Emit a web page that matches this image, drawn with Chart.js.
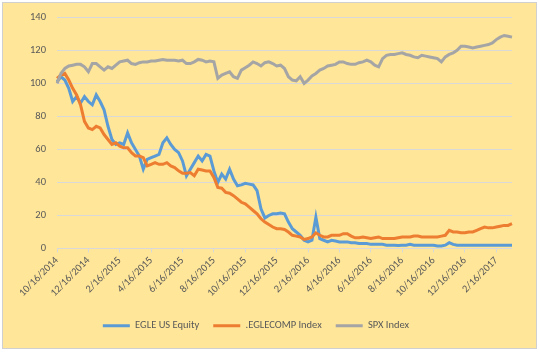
<!DOCTYPE html>
<html>
<head>
<meta charset="utf-8">
<script src="https://cdn.jsdelivr.net/npm/chart.js@4/dist/chart.umd.min.js"></script>
<style>
  html, body { margin: 0; padding: 0; background: #ffffff; }
  #frame { position: absolute; left: 2px; top: 2px; width: 533px; height: 345px; background: #FFE699; border: 1px solid #D0D0D0; }
  #wrap { position: absolute; left: 0; top: 0; width: 539px; height: 355px; }
</style>
</head>
<body>
<div id="frame"></div>
<div id="wrap"><canvas id="c" width="539" height="355"></canvas></div>
<script>
// Tick labels shown on the x axis (every 2 months)
const tickLabels = ["10/16/2014","12/16/2014","2/16/2015","4/16/2015","6/16/2015","8/16/2015","10/16/2015","12/16/2015","2/16/2016","4/16/2016","6/16/2016","8/16/2016","10/16/2016","12/16/2016","2/16/2017"];

// Categories: roughly weekly sample dates (1st, 8th, 16th, 24th of each month)
const categories = [];
(function () {
  const days = [1, 8, 16, 24];
  let y = 2014, m = 10;
  while (true) {
    for (const d of days) {
      if (y === 2014 && m === 10 && d < 16) continue;
      if (y === 2017 && m === 3 && d > 16) continue;
      categories.push(m + "/" + d + "/" + y);
    }
    if (y === 2017 && m === 3) break;
    m++; if (m > 12) { m = 1; y++; }
  }
})();

const egleUS = [
  101,104,102,97,89,92,88,92,89,87,
  93,89,84,74,66,63,64,63,70,64,
  60,56,48,54,55,56,57,64,67,63,
  60,58,53,44,48,52,56,53,57,56,
  47,40,45,42,48,42,38,38.5,39.5,39,
  38.5,35,24,18.5,20,21,21,21.5,21,16,
  12,10,8,5,4,5,19,6,5,4,
  5,4.5,4,4,4,3.5,3.5,3,3,3,
  2.5,2.5,2.5,2.5,2,2,2,1.8,2,
  2,2.5,2,2,2,2,2,2,1.5,1.5,
  2,3.5,2.5,2,2,2,2,2,2,2,
  2,2,2,2,2,2,2,2
];

const eglecomp = [
  103,105,106,102,97,93,87,77,73,72,
  74,73,69,66,63,64,62,61,61,58,
  56,56,55,50,51,52,51,51,52,50,
  49,47,45.5,45.5,46,44,48,47.5,47,47,
  43,37,36.5,34,33.5,32,30,28,27,25,
  23,21,18,16,14.5,13,12,12,11.5,10,
  8,7.5,7,5.5,6,7,9.5,8,7,7,
  8,8,8,9,9,7.5,6.5,6.5,7,6.5,
  6,6.5,7,6,6,6,6,6.5,7,
  7,7,7.5,7.5,7,7,7,7,7,7.5,
  8,11,10,10,9.5,9.5,10,10,11,12,
  13,12.5,12.5,13,13.5,14,14,15
];

const spx = [
  100,106,109,110.5,111,111.5,111.5,110,107,112,
  112,110,108,110,109,111,113,113.5,114,112,
  111.5,112.5,113,113,113.5,113.5,114,114.5,114,114,
  114,113.5,114,112,112,113,114.5,114,113,113.5,
  113,103,105,106,107,104,103,108,109.5,111,
  113,112,110.5,112.5,113,112,110.5,111,109,104,
  102,101.5,104,100,102,104.5,106,108,109,110.5,
  111,111.5,113,113,112,111.5,111.5,112.5,113,114,
  113,111,110,115,117,117.5,117.5,118,118.5,
  117.5,117,116,115.5,117,116.5,116,115.5,115,113,
  116,117.5,118.5,120,122.5,122.5,122,121.5,122,122.5,
  123,123.5,124.5,126.5,128,129,128.5,128
];

const seriesNames = ["EGLE US Equity", ".EGLECOMP Index", "SPX Index"];
const seriesColors = ["#5B9BD5", "#ED7D31", "#A5A5A5"];
const yTicks = [0, 20, 40, 60, 80, 100, 120, 140];

const FONT = "Carlito, Calibri, Lato, sans-serif";
const TXT = "#595959";
const GRID = "#D9D9D9";

function ds(i, data, order) {
  return {
    label: seriesNames[i], data: data,
    borderColor: seriesColors[i], backgroundColor: seriesColors[i],
    borderWidth: 3, pointRadius: 0, tension: 0, fill: false, order: order
  };
}

new Chart(document.getElementById("c"), {
  type: "line",
  data: {
    labels: categories,
    datasets: [ds(0, egleUS, 3), ds(1, eglecomp, 2), ds(2, spx, 1)]
  },
  options: {
    responsive: false,
    animation: false,
    layout: { padding: { left: 0, right: 27, top: 17, bottom: 14 } },
    plugins: {
      tooltip: { enabled: false },
      legend: {
        position: "bottom",
        labels: {
          color: TXT,
          font: { family: FONT, size: 10.5 },
          boxWidth: 27, boxHeight: 3, padding: 14,
          sort: (a, b) => a.datasetIndex - b.datasetIndex,
          generateLabels: (chart) => Chart.defaults.plugins.legend.labels.generateLabels(chart).map(it => Object.assign(it, { lineWidth: 0, fillStyle: it.strokeStyle }))
        }
      }
    },
    scales: {
      x: {
        type: "category",
        offset: false,
        border: { display: false },
        grid: { display: true, drawOnChartArea: false, drawTicks: true, tickLength: 4, color: GRID },
        ticks: {
          autoSkip: false, minRotation: 45, maxRotation: 45, padding: 2,
          color: TXT, font: { family: FONT, size: 10.5 },
          callback: function (v, i) {
            const lab = categories[i];
            return tickLabels.indexOf(lab) >= 0 ? lab : null;
          }
        },
        afterFit: (s) => { s.height = 58; }
      },
      y: {
        min: 0, max: 140,
        border: { display: false },
        grid: { color: GRID, drawTicks: false, lineWidth: 1 },
        afterBuildTicks: (s) => { s.ticks = yTicks.map(v => ({ value: v })); },
        ticks: { color: TXT, font: { family: FONT, size: 10.5 }, padding: 11 },
        afterFit: (s) => { s.width = 57; }
      }
    }
  }
});
</script>
</body>
</html>
